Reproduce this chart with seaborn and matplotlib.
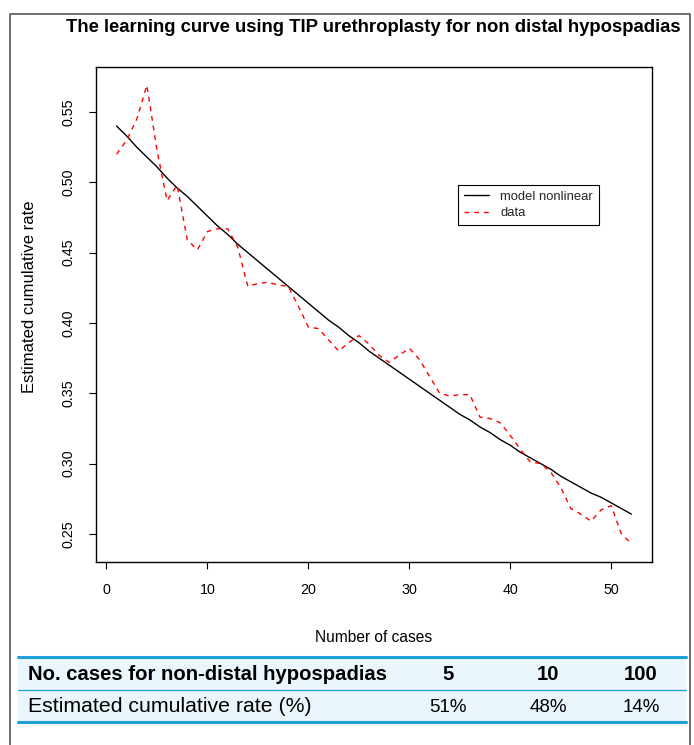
import numpy as np
import pandas as pd
import matplotlib
matplotlib.use("Agg")
import matplotlib.pyplot as plt
import seaborn as sns
from matplotlib.lines import Line2D
from matplotlib.patches import Rectangle

# ---------------- data ----------------
cases = list(range(1, 53))
data_rate = [0.520, 0.530, 0.545, 0.569, 0.523, 0.487, 0.498, 0.459, 0.452, 0.465,
             0.467, 0.467, 0.454, 0.426, 0.428, 0.429, 0.427, 0.426, 0.412, 0.397,
             0.396, 0.388, 0.380, 0.386, 0.391, 0.385, 0.377, 0.372, 0.377, 0.382,
             0.374, 0.362, 0.350, 0.348, 0.349, 0.349, 0.333, 0.332, 0.329, 0.320,
             0.310, 0.301, 0.300, 0.294, 0.283, 0.268, 0.264, 0.259, 0.267, 0.270,
             0.250, 0.243]
model_rate = [0.540, 0.533, 0.525, 0.518, 0.511, 0.503, 0.496, 0.490, 0.483, 0.476,
              0.469, 0.463, 0.456, 0.450, 0.444, 0.438, 0.432, 0.426, 0.420, 0.414,
              0.408, 0.402, 0.397, 0.391, 0.386, 0.380, 0.375, 0.370, 0.365, 0.360,
              0.355, 0.350, 0.345, 0.340, 0.335, 0.331, 0.326, 0.322, 0.317, 0.313,
              0.308, 0.304, 0.300, 0.296, 0.291, 0.287, 0.283, 0.279, 0.276, 0.272,
              0.268, 0.264]
series_names = ["model nonlinear", "data"]
title = "The learning curve using TIP urethroplasty for non distal hypospadias"
x_label = "Number of cases"
y_label = "Estimated cumulative rate"
x_ticks = [0, 10, 20, 30, 40, 50]
y_ticks = [0.25, 0.30, 0.35, 0.40, 0.45, 0.50, 0.55]
table_header = "No. cases for non-distal hypospadias"
table_row = "Estimated cumulative rate (%)"
table_cases = ["5", "10", "100"]
table_rates = ["51%", "48%", "14%"]

# ---------------- style ----------------
sns.set_theme(style="ticks")
plt.rcParams['font.family'] = ['Liberation Sans', 'DejaVu Sans']

W, H = 694, 745
fig = plt.figure(figsize=(W / 100, H / 100), dpi=100)
fig.patch.set_facecolor("white")


def fx(px):
    return px / W


def fy(py):
    return 1 - py / H


ax_l, ax_r, ax_t, ax_b = 96, 652, 67, 562
ax = fig.add_axes([fx(ax_l), fy(ax_b), fx(ax_r) - fx(ax_l), fy(ax_t) - fy(ax_b)])
ax.set_facecolor("white")

df = pd.DataFrame({
    "case": cases + cases,
    "rate": model_rate + data_rate,
    "series": [series_names[0]] * len(cases) + [series_names[1]] * len(cases),
})
colors = {series_names[0]: "black", series_names[1]: "#ff0000"}
dashes = {series_names[0]: "", series_names[1]: (3.5, 3.5)}
sns.lineplot(data=df, x="case", y="rate", hue="series", style="series",
             palette=colors, dashes=dashes, linewidth=1.0, ax=ax, legend=False)

xmin, xmax = min(cases), max(cases)
xr = xmax - xmin
ax.set_xlim(xmin - 0.04 * xr, xmax + 0.04 * xr)
ymin, ymax = min(data_rate), max(data_rate)
yr = ymax - ymin
ax.set_ylim(ymin - 0.04 * yr, ymax + 0.04 * yr)

ax.set_xticks(x_ticks)
ax.set_xticklabels([str(t) for t in x_ticks], fontsize=10.3)
ax.set_yticks(y_ticks)
ax.set_yticklabels([f"{t:.2f}" for t in y_ticks], fontsize=10.3, rotation=90, va="center")
ax.tick_params(axis="both", direction="out", length=5, width=0.8, color="black",
               labelcolor="black", pad=10)
for s in ax.spines.values():
    s.set_visible(True)
    s.set_color("black")
    s.set_linewidth(1.0)

ax.set_xlabel(x_label, fontsize=11.2, color="black")
ax.set_ylabel(y_label, fontsize=12, color="black")
ax.xaxis.set_label_coords(0.5, -(630 - ax_b) / (ax_b - ax_t))
ax.yaxis.set_label_coords(-(96 - 37) / (ax_r - ax_l), (ax_b - 297) / (ax_b - ax_t))

handles = [Line2D([], [], color="black", lw=1.0),
           Line2D([], [], color="#ff0000", lw=1.0, dashes=(3.5, 3.5))]
leg = ax.legend(handles, series_names, loc="upper left",
                bbox_to_anchor=((458 - ax_l) / (ax_r - ax_l), (ax_b - 185) / (ax_b - ax_t)),
                borderaxespad=0, fontsize=9.4, frameon=True, fancybox=False,
                framealpha=1, edgecolor="black", handlelength=1.9, handletextpad=0.9,
                labelspacing=0.3, borderpad=0.45)
leg.get_frame().set_linewidth(0.8)

# title
fig.text(fx(373), fy(28), title, ha="center", va="center", fontsize=13.3,
         fontweight="bold", color="black")

# outer frame
frame_col = "#555555"
fig.add_artist(Line2D([fx(10), fx(10), fx(690), fx(690)],
                      [fy(745), fy(14), fy(14), fy(745)],
                      color=frame_col, lw=1.2))

# table
tbl_l, tbl_r = 18, 686
blue = "#1d9fd9"
fill = "#eaf5fc"
fig.add_artist(Rectangle((fx(tbl_l), fy(722)), fx(tbl_r) - fx(tbl_l), fy(657) - fy(722),
                         facecolor=fill, edgecolor="none"))
for yy, lw in [(657, 2.2), (690, 0.9), (722, 2.2)]:
    fig.add_artist(Line2D([fx(tbl_l), fx(tbl_r)], [fy(yy), fy(yy)], color=blue, lw=lw))

tfont = ['Liberation Sans', 'DejaVu Sans']
fig.text(fx(28), fy(675), table_header, ha="left", va="center", fontsize=14.6,
         fontweight="bold", family=tfont, color="black")
fig.text(fx(28), fy(707), table_row, ha="left", va="center", fontsize=15.3,
         family=tfont, color="black")
col_x = [448, 548, 641]
for cx, c, r in zip(col_x, table_cases, table_rates):
    fig.text(fx(cx), fy(675), c, ha="center", va="center", fontsize=14.6,
             fontweight="bold", family=tfont, color="black")
    fig.text(fx(cx), fy(707), r, ha="center", va="center", fontsize=13.5,
             family=tfont, color="black")

fig.savefig("out.png", dpi=100)
